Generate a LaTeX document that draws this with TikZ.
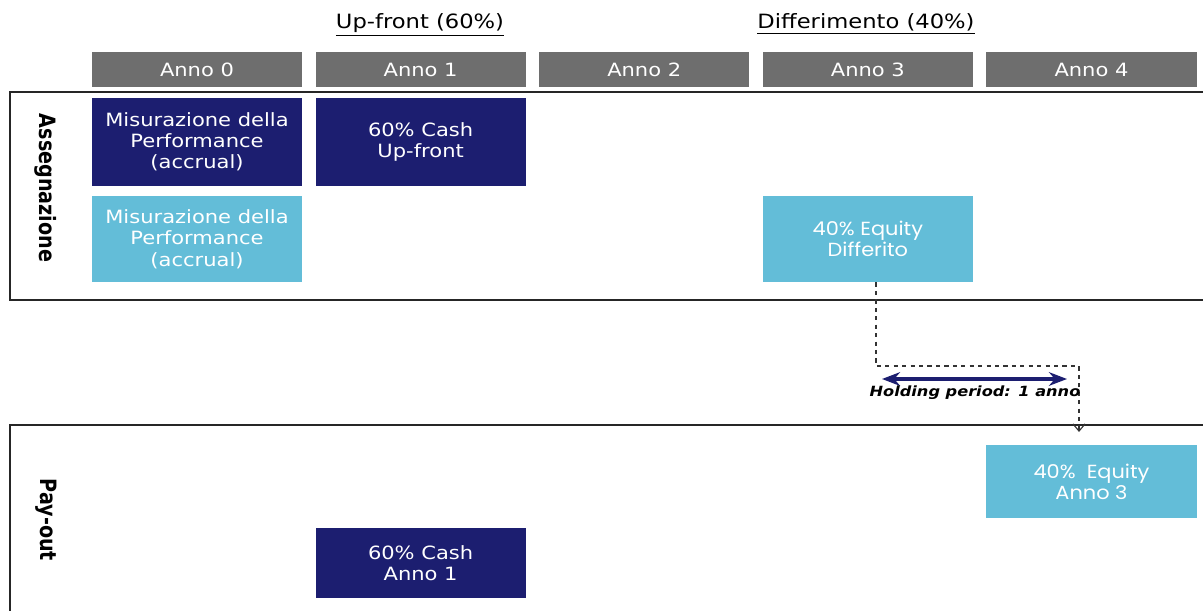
\documentclass[tikz,border=0pt]{standalone}
\usepackage{fontspec}
\setmainfont{DejaVu Sans}[FakeStretch=1.15]
\newfontfamily\geofont{Poppins}[FakeStretch=1.1]
\newfontfamily\sidefont{DejaVu Sans}[FakeStretch=0.85]
\usetikzlibrary{arrows.meta,positioning}
\definecolor{navybox}{HTML}{1C1E70}
\definecolor{skybox}{HTML}{63BDD8}
\definecolor{headgray}{HTML}{6E6E6E}

\begin{document}
\begin{tikzpicture}[
    x=0.025cm, y=-0.025cm,
    node distance=0.25cm and 0.325cm,
    yearbox/.style={rectangle, fill=headgray, text=white, minimum width=5.25cm, minimum height=0.875cm, inner sep=0pt, font=\fontsize{13}{15}\selectfont},
    box/.style={rectangle, text=white, align=center, minimum width=5.25cm, inner sep=0pt, font=\fontsize{13}{15}\selectfont},
    cashbox/.style={box, fill=navybox, minimum height=2.2cm},
    equitybox/.style={box, fill=skybox, minimum height=2.15cm},
    geobox/.style={equitybox, font=\geofont\fontsize{13.5}{15}\selectfont},
    lane/.style={line width=1.4pt, draw=black!85},
    lanelabel/.style={rotate=-90, font=\sidefont\bfseries\fontsize{16}{16}\selectfont},
    title/.style={anchor=base, font=\fontsize{14}{16}\selectfont},
    holding/.style={arrows={Stealth[length=4.5mm,width=3.4mm]-Stealth[length=4.5mm,width=3.4mm]}, line width=2.4pt, navybox},
    flow/.style={dashed, line width=0.8pt, black!80, -{Straight Barb[length=1.8mm,width=3mm]}}
]
\useasboundingbox (0,0) rectangle (1203,611);

\node[title] (upfront) at (420,29) {\underline{Up-front (60\%)}};
\node[title] (differ) at (866,29) {\underline{Differimento (40\%)}};

\node[yearbox] (anno0) at (197,69.5) {Anno 0};
\node[yearbox, right=of anno0] (anno1) {Anno 1};
\node[yearbox, right=of anno1] (anno2) {Anno 2};
\node[yearbox, right=of anno2] (anno3) {Anno 3};
\node[yearbox, right=of anno3] (anno4) {Anno 4};

\draw[lane] (1203,92) -| (10,300) -- (1203,300);
\draw[lane] (1203,425) -| (10,611);

\node[lanelabel] (assegn) at (46,188) {Assegnazione};
\node[lanelabel] (payout) at (46,520) {Pay-out};

\node[cashbox, below=of anno0] (perfcash) {Misurazione della\\Performance\\(accrual)};
\node[cashbox, below=of anno1] (cashup) {60\% Cash\\Up-front};
\node[equitybox, below=of perfcash] (perfequity) {Misurazione della\\Performance\\(accrual)};
\node[geobox] (eqdiff) at (perfequity -| anno3) {40\% Equity\\Differito};

\node[geobox, minimum height=1.825cm] (eqpay) at (anno4 |- 0,481.5) {40\%~~Equity\\Anno 3};
\node[cashbox, minimum height=1.75cm] (cashpay) at (anno1 |- 0,563) {60\% Cash\\Anno 1};

\coordinate (bend) at (876,366);
\coordinate (drop) at (1079,432);
\draw[flow] (eqdiff.south -| bend) -- (bend) -| (drop);

\coordinate (hpstart) at (882,379);
\coordinate (hpend) at (1067,379);
\draw[holding] (hpstart) -- (hpend);
\node[font=\bfseries\itshape\fontsize{10}{11}\selectfont] (hplabel) at (975,393) {Holding period: 1 anno};

\end{tikzpicture}
\end{document}
